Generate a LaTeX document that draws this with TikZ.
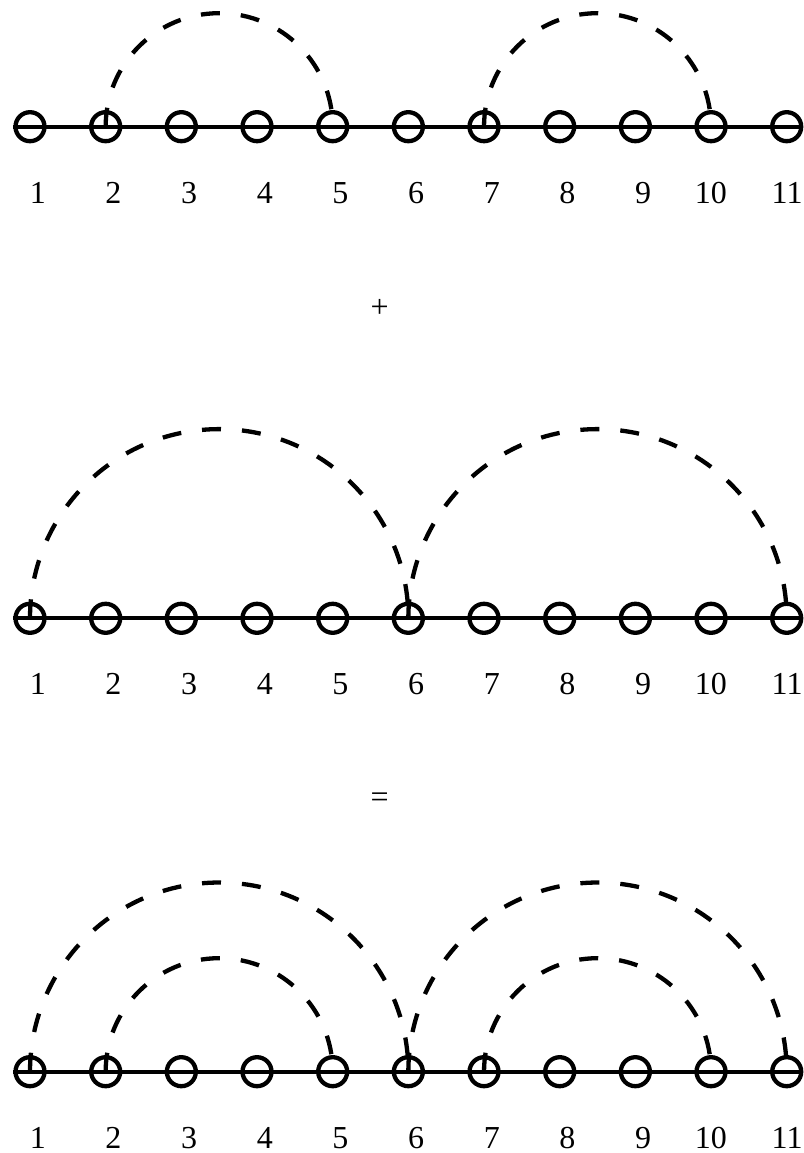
\documentclass[tikz,border=0pt]{standalone}
\usepackage{fontspec}
\setmainfont{Liberation Serif}
\usetikzlibrary{calc}
\newcommand\semiarc[2]{\draw[arcline] let \p1=(#1.center), \p2=(#2.center) in (\p1) arc[start angle=180,end angle=0,radius={(\x2-\x1)/2}];}
\begin{document}
\begin{tikzpicture}[x=1bp,y=1bp,
  vertex/.style={circle,draw,line width=4.3bp,minimum size=29bp,inner sep=0pt},
  axisline/.style={line width=4.3bp},
  arcline/.style={line width=4.3bp,dash pattern=on 19bp off 21bp},
  lbl/.style={inner sep=0pt,font=\fontsize{32bp}{38bp}\selectfont},
  op/.style={inner sep=0pt,font=\fontsize{32bp}{38bp}\selectfont}]
\path[use as bounding box,fill=white] (0,0) rectangle (804,1153);
\foreach \row/\yy in {1/1026.3,2/534.7,3/81.3}{
  \foreach \k in {1,...,11}{
    \node[vertex] (r\row c\k) at ({30+(\k-1)*75.67},\yy) {};
    \node[lbl,anchor=east] (r\row t\k) at ($(r\row c\k.center)+(16,-66)$) {\k};
  }
  \draw[axisline] (r\row c1.west) -- (r\row c11.east);
}
\semiarc{r1c2}{r1c5}
\semiarc{r1c7}{r1c10}
\semiarc{r2c1}{r2c6}
\semiarc{r2c6}{r2c11}
\semiarc{r3c1}{r3c6}
\semiarc{r3c6}{r3c11}
\semiarc{r3c2}{r3c5}
\semiarc{r3c7}{r3c10}
\node[op] (plus) at (379.7,844.3) {+};
\node[op] (equals) at (379.7,353.3) {=};
\end{tikzpicture}
\end{document}
